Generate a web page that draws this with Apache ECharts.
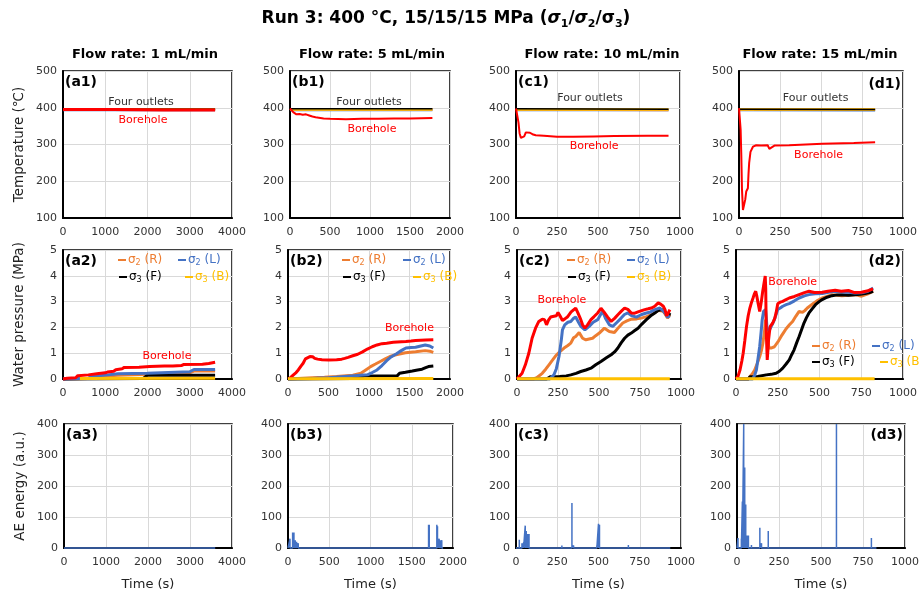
<!DOCTYPE html>
<html><head><meta charset="utf-8">
<script src="https://cdn.jsdelivr.net/npm/echarts@6/dist/echarts.min.js"></script>
<style>html,body{margin:0;padding:0;background:#fff}#c{width:919px;height:594px}</style>
</head><body><div id="c"></div>
<script>
// ---------------- DATA ----------------
const flowRates = ['Flow rate: 1 mL/min', 'Flow rate: 5 mL/min', 'Flow rate: 10 mL/min', 'Flow rate: 15 mL/min'];
const panelLetters = ['a', 'b', 'c', 'd'];
const timeMax = [4000, 2000, 1000, 1000];
const timeStep = [1000, 500, 250, 250];
const tempTicks = [100, 500, 100];      // min, max, step
const pressTicks = [0, 5, 1];
const aeTicks = [0, 400, 100];

// Row 1: temperature (°C)  [time s, value]
const a1OutR = [[0, 395], [3600, 395]];
const a1OutL = [[0, 394], [3600, 394]];
const a1OutF = [[0, 396], [3600, 396]];
const a1OutB = [[0, 395], [3600, 395]];
const a1Bore = [[0, 395], [1200, 395], [2400, 394], [3600, 394]];

const b1OutR = [[0, 395], [900, 395], [1780, 395]];
const b1OutL = [[0, 394], [1780, 394]];
const b1OutF = [[0, 397], [1780, 397]];
const b1OutB = [[0, 395], [1780, 395]];
const b1Bore = [[0, 398], [20, 394], [40, 388], [60, 384], [80, 382], [120, 383], [160, 381], [200, 382], [240, 379], [280, 376], [320, 374], [360, 373], [420, 371], [500, 370], [700, 369], [900, 370], [1100, 370], [1300, 371], [1500, 371], [1780, 372]];

const c1OutR = [[0, 395], [930, 394]];
const c1OutL = [[0, 394], [930, 394]];
const c1OutF = [[0, 397], [930, 396]];
const c1OutB = [[0, 395], [930, 395]];
const c1Bore = [[0, 398], [8, 395], [15, 360], [22, 330], [30, 318], [40, 317], [50, 322], [60, 333], [70, 336], [85, 332], [100, 328], [120, 325], [170, 324], [250, 321], [350, 321], [473, 322], [600, 323], [800, 324], [930, 324]];

const d1OutR = [[0, 395], [830, 395]];
const d1OutL = [[0, 394], [830, 393]];
const d1OutF = [[0, 396], [830, 395]];
const d1OutB = [[0, 395], [830, 395]];
const d1Bore = [[0, 399], [5, 395], [10, 340], [14, 272], [18, 180], [24, 122], [30, 127], [38, 150], [44, 172], [54, 181], [58, 220], [62, 250], [70, 280], [85, 294], [105, 298], [135, 297], [175, 298], [185, 288], [195, 292], [216, 297], [306, 298], [508, 302], [700, 304], [830, 306]];

// Row 2: water pressure (MPa)
const a2Bore = [[0, 0], [100, 0.03], [300, 0.05], [350, 0.13], [600, 0.16], [800, 0.2], [830, 0.22], [1000, 0.24], [1050, 0.27], [1200, 0.3], [1250, 0.36], [1400, 0.4], [1450, 0.45], [1800, 0.46], [2050, 0.48], [2400, 0.5], [2600, 0.5], [2800, 0.52], [2850, 0.56], [3300, 0.57], [3450, 0.6], [3600, 0.65]];
const a2R = [[0, 0], [600, 0.02], [700, 0.08], [1000, 0.12], [1300, 0.15], [2000, 0.18], [2500, 0.22], [3000, 0.25], [3100, 0.31], [3600, 0.31]];
const a2L = [[0, 0], [600, 0.03], [700, 0.1], [1000, 0.15], [1300, 0.2], [2000, 0.22], [2500, 0.25], [3000, 0.28], [3100, 0.37], [3600, 0.37]];
const a2F = [[0, 0], [1900, 0.02], [2000, 0.15], [3600, 0.15]];
const a2B = [[400, 0.02], [3600, 0.03]];

const b2Bore = [[0, 0], [30, 0.05], [67, 0.16], [100, 0.25], [127, 0.35], [160, 0.5], [187, 0.61], [215, 0.78], [234, 0.84], [270, 0.87], [305, 0.86], [330, 0.8], [365, 0.77], [420, 0.75], [504, 0.74], [600, 0.75], [663, 0.77], [700, 0.8], [742, 0.84], [800, 0.9], [861, 0.96], [920, 1.05], [980, 1.16], [1040, 1.25], [1099, 1.32], [1160, 1.37], [1218, 1.39], [1300, 1.42], [1400, 1.44], [1456, 1.45], [1520, 1.47], [1575, 1.49], [1700, 1.51], [1794, 1.52]];
const b2R = [[0, 0], [300, 0.05], [450, 0.07], [600, 0.1], [800, 0.15], [900, 0.22], [960, 0.35], [1020, 0.48], [1080, 0.58], [1139, 0.68], [1200, 0.78], [1258, 0.87], [1320, 0.93], [1377, 0.97], [1450, 1.02], [1575, 1.06], [1694, 1.1], [1750, 1.08], [1794, 1.03]];
const b2L = [[0, 0], [300, 0.02], [400, 0.04], [500, 0.05], [700, 0.1], [900, 0.15], [980, 0.16], [1040, 0.25], [1099, 0.35], [1160, 0.52], [1218, 0.71], [1258, 0.82], [1298, 0.9], [1340, 0.98], [1377, 1.06], [1420, 1.14], [1456, 1.2], [1520, 1.22], [1575, 1.23], [1640, 1.28], [1694, 1.32], [1750, 1.28], [1794, 1.2]];
const b2F = [[0, 0], [800, 0.02], [900, 0.07], [950, 0.12], [1350, 0.13], [1377, 0.22], [1450, 0.26], [1535, 0.31], [1600, 0.35], [1655, 0.38], [1700, 0.44], [1734, 0.48], [1794, 0.5]];
const b2B = [[0, 0.01], [1794, 0.02]];

const c2Bore = [[0, 0], [4, 0], [31, 0.22], [51, 0.55], [72, 1.0], [92, 1.58], [113, 1.97], [133, 2.23], [154, 2.32], [168, 2.3], [180, 2.1], [192, 2.28], [205, 2.4], [218, 2.42], [230, 2.36], [240, 2.45], [250, 2.58], [262, 2.45], [277, 2.27], [292, 2.33], [307, 2.4], [330, 2.6], [358, 2.75], [372, 2.55], [389, 2.3], [400, 2.1], [414, 1.97], [430, 2.1], [451, 2.3], [470, 2.42], [492, 2.56], [512, 2.74], [530, 2.6], [553, 2.4], [574, 2.23], [595, 2.35], [615, 2.49], [635, 2.62], [656, 2.75], [676, 2.7], [697, 2.56], [718, 2.55], [738, 2.6], [760, 2.65], [779, 2.69], [800, 2.72], [820, 2.75], [840, 2.82], [861, 2.95], [876, 2.9], [892, 2.82], [902, 2.7], [912, 2.45], [922, 2.55], [932, 2.69]];
const c2R = [[0, 0], [100, 0], [120, 0.05], [154, 0.22], [175, 0.38], [195, 0.55], [215, 0.72], [236, 0.9], [260, 1.05], [287, 1.2], [310, 1.3], [328, 1.39], [345, 1.6], [358, 1.65], [379, 1.8], [400, 1.58], [420, 1.52], [440, 1.55], [461, 1.58], [480, 1.68], [502, 1.78], [533, 1.97], [563, 1.84], [594, 1.8], [620, 2.0], [645, 2.17], [670, 2.25], [697, 2.32], [730, 2.33], [758, 2.36], [790, 2.42], [820, 2.49], [861, 2.66], [892, 2.62], [905, 2.5], [918, 2.36], [932, 2.49]];
const c2L = [[0, 0], [200, 0], [225, 0.16], [240, 0.4], [256, 0.87], [270, 1.5], [277, 1.9], [291, 2.1], [310, 2.2], [328, 2.23], [345, 2.35], [358, 2.4], [375, 2.2], [389, 2.04], [414, 1.9], [440, 2.04], [465, 2.2], [492, 2.3], [510, 2.5], [522, 2.62], [540, 2.35], [563, 2.1], [584, 2.04], [610, 2.2], [635, 2.36], [655, 2.5], [676, 2.56], [700, 2.45], [728, 2.4], [760, 2.5], [789, 2.56], [815, 2.6], [840, 2.69], [871, 2.75], [890, 2.65], [902, 2.56], [918, 2.4], [932, 2.45]];
const c2F = [[0, 0], [180, 0], [205, 0.09], [260, 0.1], [300, 0.12], [328, 0.16], [360, 0.22], [389, 0.29], [420, 0.35], [451, 0.42], [480, 0.55], [512, 0.68], [545, 0.82], [574, 0.94], [595, 1.05], [615, 1.2], [635, 1.4], [656, 1.58], [676, 1.7], [697, 1.78], [718, 1.88], [738, 1.97], [760, 2.12], [789, 2.3], [815, 2.45], [840, 2.56], [860, 2.65], [881, 2.69], [898, 2.62], [912, 2.49], [925, 2.45], [932, 2.56]];
const c2B = [[0, 0.01], [932, 0.01]];

const d2Bore = [[0, 0], [12, 0.1], [24, 0.35], [35, 0.7], [43, 1.0], [53, 1.5], [63, 2.04], [73, 2.45], [83, 2.75], [92, 2.95], [102, 3.14], [110, 3.3], [118, 3.4], [125, 3.2], [132, 2.95], [142, 2.62], [148, 2.85], [152, 3.01], [160, 3.4], [165, 3.6], [175, 3.99], [178, 3.5], [181, 1.9], [187, 0.74], [192, 1.2], [195, 1.52], [200, 1.8], [205, 2.04], [220, 2.17], [232, 2.35], [240, 2.56], [250, 2.92], [265, 2.98], [280, 3.01], [300, 3.08], [319, 3.14], [350, 3.2], [378, 3.27], [410, 3.35], [437, 3.4], [470, 3.35], [516, 3.36], [550, 3.4], [594, 3.44], [630, 3.4], [673, 3.43], [710, 3.35], [752, 3.36], [790, 3.42], [821, 3.49]];
const d2R = [[0, 0], [75, 0], [83, 0.09], [98, 0.2], [112, 0.35], [127, 0.6], [142, 0.87], [152, 1.1], [161, 1.39], [170, 1.8], [177, 2.3], [181, 2.1], [185, 1.9], [191, 1.5], [197, 1.2], [210, 1.2], [220, 1.2], [230, 1.25], [240, 1.32], [255, 1.48], [270, 1.65], [285, 1.8], [299, 1.94], [320, 2.1], [339, 2.23], [358, 2.43], [378, 2.62], [398, 2.58], [412, 2.65], [427, 2.75], [447, 2.85], [467, 2.95], [490, 3.05], [516, 3.14], [545, 3.2], [575, 3.27], [605, 3.25], [634, 3.23], [673, 3.25], [713, 3.27], [752, 3.21], [790, 3.3], [821, 3.4]];
const d2L = [[0, 0], [100, 0], [112, 0.15], [122, 0.35], [132, 0.8], [142, 1.26], [150, 1.8], [157, 2.3], [165, 2.62], [172, 2.68], [177, 2.69], [181, 2.4], [185, 2.04], [191, 1.9], [197, 1.84], [205, 1.95], [211, 2.04], [220, 2.15], [230, 2.3], [240, 2.5], [250, 2.69], [265, 2.75], [280, 2.82], [300, 2.88], [319, 2.92], [350, 3.03], [378, 3.14], [410, 3.22], [437, 3.27], [475, 3.3], [516, 3.31], [555, 3.36], [594, 3.4], [635, 3.37], [673, 3.36], [712, 3.33], [752, 3.34], [790, 3.4], [821, 3.53]];
const d2F = [[0, 0], [75, 0], [83, 0.09], [130, 0.1], [181, 0.16], [210, 0.18], [240, 0.22], [260, 0.3], [280, 0.42], [300, 0.58], [319, 0.74], [334, 0.95], [348, 1.13], [363, 1.4], [378, 1.65], [392, 1.9], [407, 2.17], [422, 2.38], [437, 2.56], [456, 2.72], [476, 2.88], [496, 2.99], [516, 3.08], [545, 3.17], [575, 3.23], [605, 3.26], [634, 3.27], [673, 3.25], [713, 3.27], [743, 3.28], [772, 3.31], [800, 3.35], [821, 3.4]];
const d2B = [[0, 0.01], [830, 0.01]];

// Row 3: AE energy spikes (time s, energy a.u.) and end time of record
const a3Times = [1000];
const a3Energy = [3];
const a3End = 3600;
const b3Times = [24, 56, 64, 72, 88, 104, 124, 204, 1024, 1704, 1712, 1804, 1812, 1832, 1848, 1864];
const b3Energy = [30, 50, 48, 50, 25, 20, 15, 3, 3, 75, 75, 75, 70, 30, 25, 25];
const b3End = 1880;
const c3Times = [20, 36, 46, 56, 62, 70, 79, 87, 278, 339, 349, 490, 500, 506, 681];
const c3Energy = [27, 15, 17, 72, 55, 45, 45, 5, 8, 145, 8, 8, 78, 75, 10];
const c3End = 935;
const d3Times = [6, 26, 32, 40, 46, 52, 60, 68, 86, 136, 146, 186, 592, 800];
const d3Energy = [32, 30, 150, 400, 260, 140, 40, 40, 10, 65, 15, 55, 400, 32];
const d3End = 830;

// ---------------- STYLE / LAYOUT ----------------
const FONT = '"DejaVu Sans", Verdana, sans-serif';
const C_R = '#ED7D31', C_L = '#4472C4', C_F = '#000000', C_B = '#FFC000', C_BORE = '#FF0000';
const rowTop = [71, 250, 424], rowBot = [218, 379, 548];
const colL = [[63, 290, 516, 739], [63, 288, 517, 736], [64, 288, 516, 737]];
const colR = [[232, 450, 680, 903], [232, 450, 681, 903], [232, 453, 681, 905]];
const yNames = ['Temperature (℃)', 'Water pressure (MPa)', 'AE energy (a.u.)'];
const yTicks = [tempTicks, pressTicks, aeTicks];
const plain = v => String(v);

const grids = [], xAxes = [], yAxes = [], series = [], legends = [], graphics = [];

for (let r = 0; r < 3; r++) {
  for (let c = 0; c < 4; c++) {
    const idx = r * 4 + c;
    grids.push({
      left: colL[r][c], top: rowTop[r], width: colR[r][c] - colL[r][c], height: rowBot[r] - rowTop[r],
      show: true, borderColor: '#000', borderWidth: 1.5, backgroundColor: 'transparent',
      containLabel: false, outerBoundsMode: 'none'
    });
    xAxes.push({
      gridIndex: idx, type: 'value', min: 0, max: timeMax[c], interval: timeStep[c],
      axisLine: { show: true, onZero: false, lineStyle: { color: '#000', width: 2 } },
      axisTick: { show: false },
      splitLine: { show: true, lineStyle: { color: '#d9d9d9', width: 1 } },
      axisLabel: { color: '#333', fontSize: 11, fontFamily: FONT, margin: 9, formatter: plain },
      name: r === 2 ? 'Time (s)' : '', nameLocation: 'middle', nameGap: 30,
      nameTextStyle: { color: '#222', fontSize: 13, fontFamily: FONT }
    });
    const t = yTicks[r];
    yAxes.push({
      gridIndex: idx, type: 'value', min: t[0], max: t[1], interval: t[2],
      axisLine: { show: true, onZero: false, lineStyle: { color: '#000', width: 2 } },
      axisTick: { show: false },
      splitLine: { show: true, lineStyle: { color: '#d9d9d9', width: 1 } },
      axisLabel: { color: '#333', fontSize: 11, fontFamily: FONT, margin: 6, formatter: plain },
      name: c === 0 ? yNames[r] : '', nameLocation: 'middle', nameGap: 37,
      nameTextStyle: { color: '#222', fontSize: 13.5, fontFamily: FONT }
    });
  }
}

function line(idx, name, data, color, width, extra) {
  return Object.assign({
    type: 'line', name, xAxisIndex: idx, yAxisIndex: idx, data,
    showSymbol: false, symbol: 'none', clip: false, animation: false, silent: true,
    lineStyle: { color, width }, itemStyle: { color }
  }, extra || {});
}
function note(text, coord, color) {
  return {
    symbol: 'circle', symbolSize: 1, silent: true, animation: false,
    itemStyle: { color: 'rgba(0,0,0,0)' },
    label: { show: true, position: 'inside', formatter: text, color, fontSize: 11, fontFamily: FONT },
    data: [{ coord }]
  };
}
function spikes(times, vals, end) {
  const d = [[0, 0]];
  times.forEach((t, i) => { d.push([t, 0], [t, vals[i]], [t, 0]); });
  d.push([end, 0]);
  return d;
}

// Row 1
const outR = [a1OutR, b1OutR, c1OutR, d1OutR];
const outL = [a1OutL, b1OutL, c1OutL, d1OutL];
const outF = [a1OutF, b1OutF, c1OutF, d1OutF];
const outB = [a1OutB, b1OutB, c1OutB, d1OutB];
const bore1 = [a1Bore, b1Bore, c1Bore, d1Bore];
const fourPos = [[1846, 416], [988, 415], [451, 426], [467, 426]];
const bore1Pos = [[1893, 367], [1025, 342], [476, 296], [485, 271]];
for (let c = 0; c < 4; c++) {
  series.push(line(c, 'T-L', outL[c], C_L, 2.5));
  series.push(line(c, 'T-R', outR[c], C_R, 2.5));
  series.push(line(c, 'T-B', outB[c], C_B, 2.5));
  series.push(line(c, 'T-F', outF[c], C_F, 1.5, { markPoint: note('Four outlets', fourPos[c], '#333') }));
  series.push(line(c, 'T-Bore', bore1[c], C_BORE, c === 0 ? 3 : 2, { markPoint: note('Borehole', bore1Pos[c], C_BORE) }));
}

// Row 2
const pR = [a2R, b2R, c2R, d2R], pL = [a2L, b2L, c2L, d2L], pF = [a2F, b2F, c2F, d2F], pB = [a2B, b2B, c2B, d2B];
const bore2 = [a2Bore, b2Bore, c2Bore, d2Bore];
const bore2Pos = [[2461, 0.89], [1500, 1.98], [274, 3.06], [339, 3.76]];
const NR = 'σ2 (R)', NL = 'σ2 (L)', NF = 'σ3 (F)', NB = 'σ3 (B)';
for (let c = 0; c < 4; c++) {
  const idx = 4 + c;
  series.push(line(idx, NR, pR[c], C_R, 3));
  series.push(line(idx, NF, pF[c], C_F, 3));
  series.push(line(idx, NL, pL[c], C_L, 3));
  series.push(line(idx, 'P-Bore', bore2[c], C_BORE, 3, { markPoint: note('Borehole', bore2Pos[c], C_BORE) }));
  series.push(line(idx, NB, pB[c], C_B, 3));
}

// Row 3
const aeT = [a3Times, b3Times, c3Times, d3Times], aeE = [a3Energy, b3Energy, c3Energy, d3Energy], aeEnd = [a3End, b3End, c3End, d3End];
for (let c = 0; c < 4; c++) {
  series.push(line(8 + c, 'AE', spikes(aeT[c], aeE[c], aeEnd[c]), C_L, 1.5));
}

// Legends (row 2)
const legendDefs = [
  { name: NR, color: C_R, sub: '2', tail: ' (R)' },
  { name: NL, color: C_L, sub: '2', tail: ' (L)' },
  { name: NF, color: C_F, sub: '3', tail: ' (F)' },
  { name: NB, color: C_B, sub: '3', tail: ' (B)' }
];
const legendPos = [
  [[118, 254], [178, 254], [119, 271], [185, 271]],
  [[342, 254], [403, 254], [343, 271], [413, 271]],
  [[567, 254], [627, 254], [568, 271], [627, 271]],
  [[812, 340], [872, 340], [812, 356], [880, 356]]
];
for (let c = 0; c < 4; c++) {
  legendDefs.forEach((d, k) => {
    legends.push({
      data: [{ name: d.name }],
      left: legendPos[c][k][0], top: legendPos[c][k][1],
      icon: 'rect', itemWidth: 8, itemHeight: 2, itemGap: 0, padding: 0,
      selectedMode: false,
      formatter: () => '{m|σ}{s|' + d.sub + '}{m|' + d.tail + '}',
      textStyle: {
        color: d.color, fontFamily: FONT, fontSize: 12, padding: [0, 0, 0, -3],
        rich: {
          m: { color: d.color, fontFamily: FONT, fontSize: 12, lineHeight: 14 },
          s: { color: d.color, fontFamily: FONT, fontSize: 8, lineHeight: 9, verticalAlign: 'bottom' }
        }
      }
    });
  });
}

// Titles and panel labels
const titleRich = {
  b: { fontFamily: FONT, fontSize: 17, fontWeight: 'bold', color: '#000', lineHeight: 22 },
  i: { fontFamily: FONT, fontSize: 17, fontWeight: 'bold', fontStyle: 'italic', color: '#000', lineHeight: 22 },
  s: { fontFamily: FONT, fontSize: 11, fontWeight: 'bold', color: '#000', lineHeight: 13, verticalAlign: 'bottom' }
};
graphics.push({
  type: 'text', x: 446, y: 19, silent: true,
  style: {
    text: '{b|Run 3: 400 °C, 15/15/15 MPa (}{i|σ}{s|1}{b|/}{i|σ}{s|2}{b|/σ}{s|3}{b|)}',
    rich: titleRich, align: 'center', verticalAlign: 'middle', textAlign: 'center', textVerticalAlign: 'middle'
  }
});
const headX = [145, 372, 602, 820];
flowRates.forEach((txt, c) => {
  graphics.push({
    type: 'text', x: headX[c], y: 55, silent: true,
    style: {
      text: txt, fill: '#000', font: 'bold 13px ' + FONT,
      align: 'center', verticalAlign: 'middle', textAlign: 'center', textVerticalAlign: 'middle'
    }
  });
});
for (let r = 0; r < 3; r++) {
  for (let c = 0; c < 4; c++) {
    const right = c === 3;
    graphics.push({
      type: 'text', x: right ? colR[r][c] - 2 : colL[r][c] + 2, y: rowTop[r] + (right && r === 0 ? 13 : 11), silent: true,
      style: {
        text: '(' + panelLetters[c] + (r + 1) + ')', fill: '#000', font: 'bold 14px ' + FONT,
        align: right ? 'right' : 'left', verticalAlign: 'middle',
        textAlign: right ? 'right' : 'left', textVerticalAlign: 'middle'
      }
    });
  }
}

const chart = echarts.init(document.getElementById('c'), null, { renderer: 'canvas' });
chart.setOption({
  backgroundColor: '#fff',
  animation: false,
  grid: grids, xAxis: xAxes, yAxis: yAxes,
  legend: legends, series, graphic: graphics
});
</script></body></html>
